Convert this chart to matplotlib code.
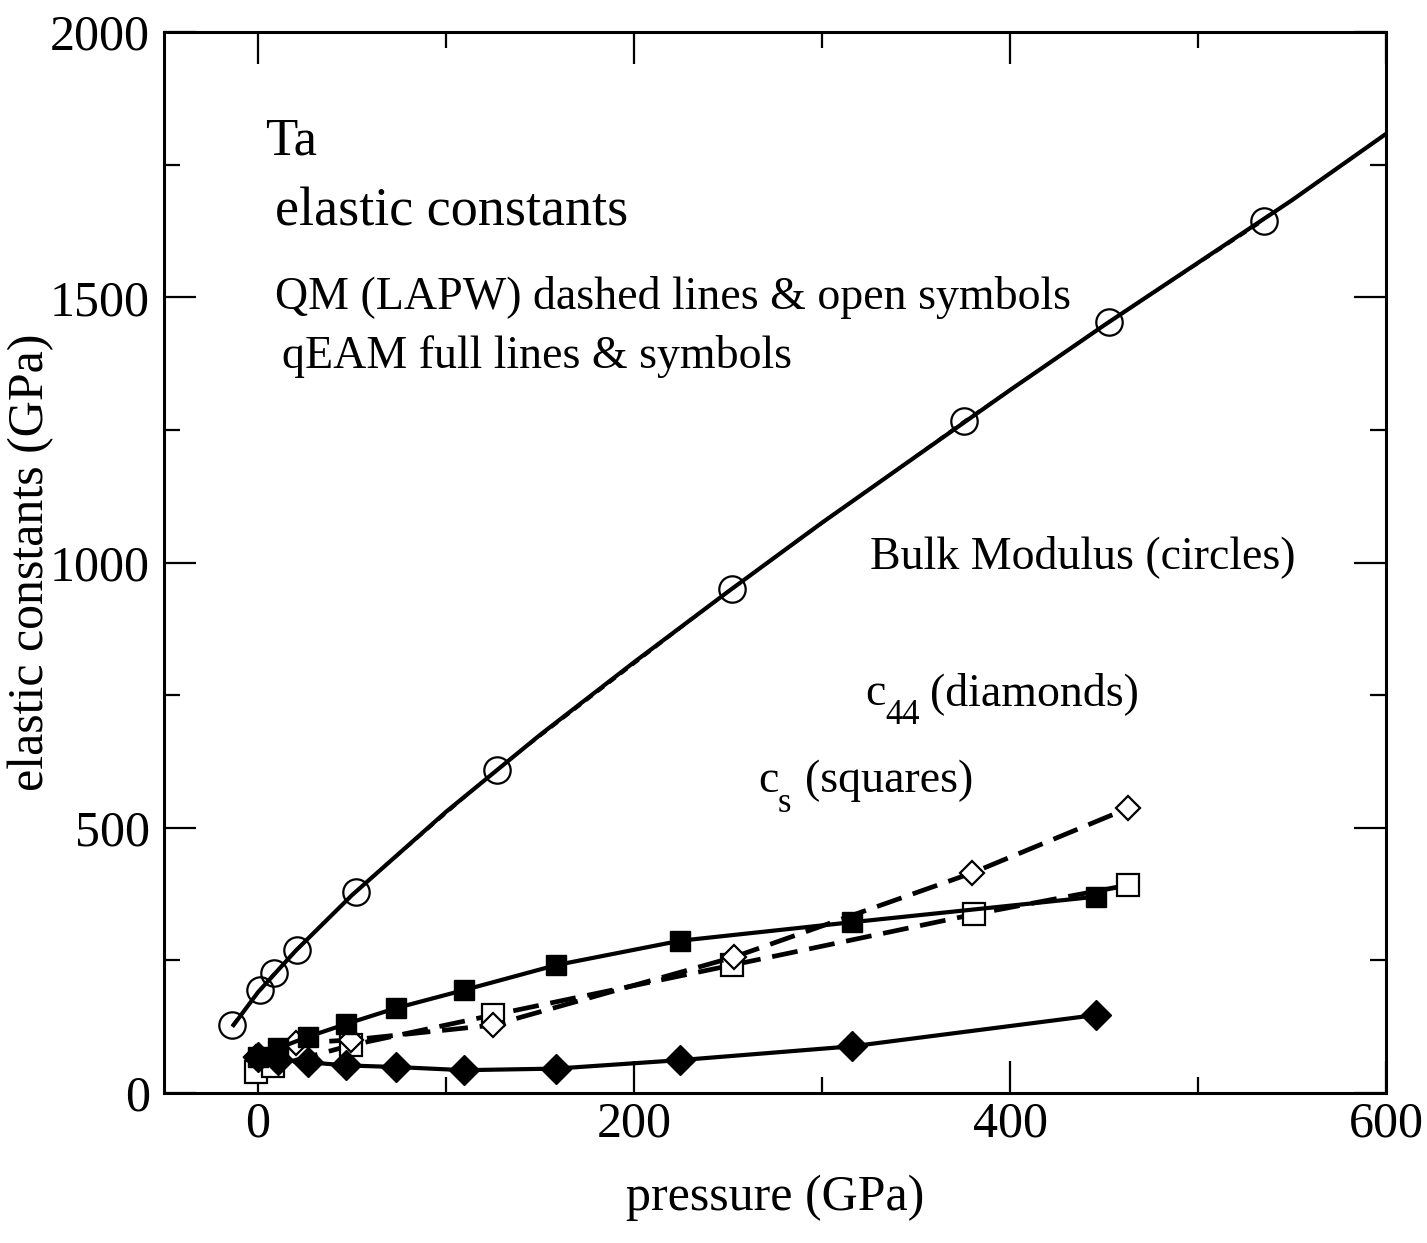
import matplotlib
matplotlib.use("Agg")
import matplotlib.pyplot as plt
from matplotlib.ticker import MultipleLocator

plt.rcParams["font.family"] = ["Liberation Serif", "DejaVu Serif"]

# bulk modulus, QM (LAPW) : cercles ouverts, tirets
bulk_qm_p = [-13.8, 1, 8.5, 20.7, 52, 127, 252, 375.5, 452.7, 535]
bulk_qm_v = [128, 194, 226, 270, 379, 609, 950, 1267, 1453, 1644]

# bulk modulus, qEAM : trait plein sans symbole
bulk_eam_p = [-13, 0, 20, 50, 100, 150, 200, 250, 300, 350, 400, 450, 500, 550, 600]
bulk_eam_v = [128, 190, 268, 373, 530, 675, 812, 945, 1075, 1200, 1325, 1447, 1565, 1683, 1808]

# c_s, qEAM : carrés pleins
cs_eam_p = [0, 10.5, 26.6, 46.8, 73.4, 109.6, 158.5, 224.5, 316, 445.7]
cs_eam_v = [68, 84, 106, 130, 160, 194, 241, 287, 322, 370]

# c44, qEAM : losanges pleins
c44_eam_p = [0, 10.5, 26.6, 46.8, 73.4, 109.6, 158.5, 224.5, 316, 445.7]
c44_eam_v = [68, 63, 58, 52, 49, 43, 46, 62, 88, 147]

# c44, QM : losanges ouverts
c44_qm_p = [-1, 20, 49.5, 125, 253, 380, 463]
c44_qm_v = [68, 94, 100, 128, 256, 415, 537]

# c_s, QM : carrés ouverts
cs_qm_p = [-1, 8, 49.5, 125, 252, 381, 463]
cs_qm_v = [40, 50, 90, 147, 241, 337, 392]

W, H, DPI = 1427, 1243, 100
fig = plt.figure(figsize=(W / DPI, H / DPI), dpi=DPI)
ax = fig.add_axes([164 / W, 1 - 1093 / H, (1386 - 164) / W, (1093 - 32) / H])

# courbes QM (tirets)
ax.plot(bulk_qm_p, bulk_qm_v, ls=(0, (4, 3)), lw=1.5, color="black",
        marker="o", ms=19, mfc="none", mec="black", mew=1.6)
ax.plot(cs_qm_p, cs_qm_v, ls=(0, (5.5, 2.5)), lw=3.4, color="black",
        marker="s", ms=15.5, mfc="white", mec="black", mew=1.6)
ax.plot(c44_qm_p, c44_qm_v, ls=(0, (5.5, 2.5)), lw=3.4, color="black",
        marker="D", ms=12.5, mfc="white", mec="black", mew=1.6)

# courbes qEAM (traits pleins)
ax.plot(bulk_eam_p, bulk_eam_v, ls="-", lw=3.0, color="black")
ax.plot(cs_eam_p, cs_eam_v, ls="-", lw=3.0, color="black",
        marker="s", ms=14, mfc="black", mec="black")
ax.plot(c44_eam_p, c44_eam_v, ls="-", lw=3.0, color="black",
        marker="D", ms=15, mfc="black", mec="black")

ax.set_xlim(-50, 600)
ax.set_ylim(0, 2000)
ax.xaxis.set_major_locator(MultipleLocator(200))
ax.xaxis.set_minor_locator(MultipleLocator(100))
ax.yaxis.set_major_locator(MultipleLocator(500))
ax.yaxis.set_minor_locator(MultipleLocator(250))

ax.tick_params(which="both", direction="in", top=True, right=True,
               labelsize=36, width=1.6)
ax.tick_params(which="major", length=23)
ax.tick_params(which="minor", length=11.5)
ax.tick_params(axis="x", pad=6)
ax.tick_params(axis="y", pad=10)
for sp in ax.spines.values():
    sp.set_linewidth(2.2)

ax.set_xlabel("pressure (GPa)", fontsize=36, labelpad=19)
ax.set_ylabel("elastic constants (GPa)", fontsize=36, labelpad=-3)

ax.text(3.7, 1793, "Ta", fontsize=38, va="center", ha="left")
ax.text(9, 1661, "elastic constants", fontsize=39, va="center", ha="left")
ax.text(9, 1500, "QM (LAPW) dashed lines & open symbols", fontsize=33,
        va="center", ha="left")
ax.text(13, 1389, "qEAM full lines & symbols", fontsize=33, va="center", ha="left")
ax.text(325.5, 990, "Bulk Modulus (circles)", fontsize=33, va="baseline", ha="left")

# indices posés à la main, abaissés comme dans l'original
ax.text(322.9, 731, "c", fontsize=33, va="baseline", ha="left")
ax.text(333.5, 696, "44", fontsize=25, va="baseline", ha="left")
ax.text(357.4, 731, "(diamonds)", fontsize=33, va="baseline", ha="left")
ax.text(266, 567, "c", fontsize=33, va="baseline", ha="left")
ax.text(276.6, 530, "s", fontsize=25, va="baseline", ha="left")
ax.text(291, 567, "(squares)", fontsize=33, va="baseline", ha="left")

fig.savefig("out.png", dpi=DPI)
